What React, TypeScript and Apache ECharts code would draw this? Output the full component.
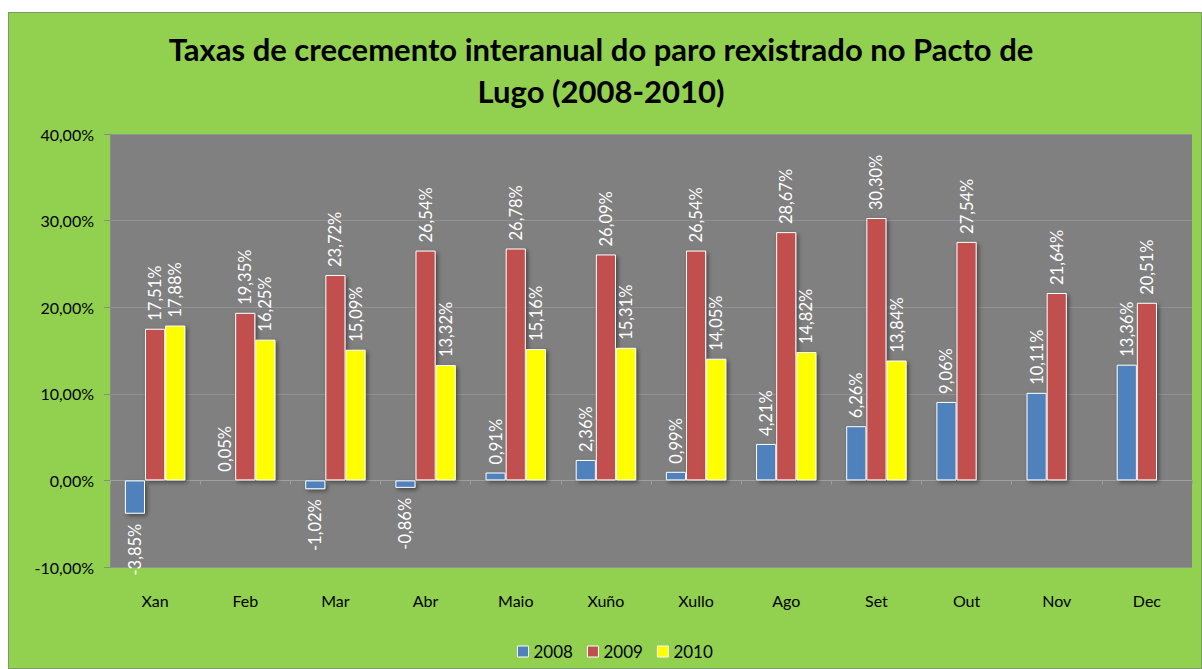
import React, { useEffect, useRef } from "react";
import * as echarts from "echarts";

const months = ["Xan", "Feb", "Mar", "Abr", "Maio", "Xuño", "Xullo", "Ago", "Set", "Out", "Nov", "Dec"];
const s2008 = [-3.85, 0.05, -1.02, -0.86, 0.91, 2.36, 0.99, 4.21, 6.26, 9.06, 10.11, 13.36];
const s2009 = [17.51, 19.35, 23.72, 26.54, 26.78, 26.09, 26.54, 28.67, 30.3, 27.54, 21.64, 20.51];
const s2010: (number | null)[] = [17.88, 16.25, 15.09, 13.32, 15.16, 15.31, 14.05, 14.82, 13.84, null, null, null];
const seriesNames = ["2008", "2009", "2010"];
const colors = ["#4f81bd", "#c0504d", "#ffff00"];
const titleText = "Taxas de crecemento interanual do paro rexistrado no Pacto de\nLugo (2008-2010)";

const FONT = "Lato, 'Open Sans', sans-serif";
const fmt = (v: number, d = 2) => v.toFixed(d).replace(".", ",") + "%";

function makeData(arr: (number | null)[]) {
  return arr.map((v) => {
    if (v === null) return null;
    if (v < 0) {
      return {
        value: v,
        label: { position: "bottom", align: "right", distance: 10 },
      };
    }
    return v;
  });
}

export default function App() {
  const ref = useRef<HTMLDivElement>(null);
  useEffect(() => {
    if (!ref.current) return;
    const chart = echarts.init(ref.current, undefined, { renderer: "svg" });
    const datas = [s2008, s2009, s2010];
    chart.setOption({
      animation: false,
      backgroundColor: "#92d050",
      textStyle: { fontFamily: FONT },
      title: {
        text: titleText,
        left: 587,
        top: 10,
        textAlign: "center",
        textStyle: { fontFamily: FONT, fontSize: 31, fontWeight: "bold", color: "#000", lineHeight: 42 },
      },
      legend: {
        left: 503,
        top: 625,
        itemWidth: 11,
        itemHeight: 11,
        itemGap: 14,
        icon: "rect",
        data: seriesNames.map((n, i) => ({ name: n, itemStyle: { color: colors[i], borderColor: "#fff", borderWidth: 1 } })),
        textStyle: { fontFamily: FONT, fontSize: 17, color: "#000", padding: [0, 0, 0, 0] },
      },
      grid: { left: 101, top: 121, width: 1082, height: 433, backgroundColor: "#808080", show: true, borderWidth: 0 },
      xAxis: [
        {
          type: "category",
          data: months,
          position: "bottom",
          axisLine: { onZero: false, show: false },
          axisTick: { show: false },
          axisLabel: { fontFamily: FONT, fontSize: 16, color: "#000", margin: 25 },
        },
        {
          type: "category",
          data: months,
          position: "bottom",
          axisLine: { onZero: true, show: true, lineStyle: { color: "#a0a0a0", width: 1 } },
          axisTick: { show: true, length: 4, lineStyle: { color: "#a0a0a0" } },
          axisLabel: { show: false },
        },
      ],
      yAxis: {
        type: "value",
        min: -10,
        max: 40,
        interval: 10,
        axisLine: { show: true, lineStyle: { color: "#8a8a8a" } },
        axisTick: { show: true, length: 6, lineStyle: { color: "#8a8a8a" } },
        axisLabel: { fontFamily: FONT, fontSize: 16, color: "#000", margin: 16, formatter: (v: number) => fmt(v) },
        splitLine: { show: true, lineStyle: { color: "#929292", width: 1 } },
      },
      series: datas.map((d, i) => ({
        name: seriesNames[i],
        type: "bar",
        xAxisIndex: 0,
        data: makeData(d),
        barGap: "0%",
        barCategoryGap: "33%",
        itemStyle: {
          color: colors[i],
          borderColor: "#ffffff",
          borderWidth: 1,
          shadowColor: "rgba(0,0,0,0.45)",
          shadowBlur: 4,
          shadowOffsetX: 2,
          shadowOffsetY: 2,
        },
        label: {
          show: true,
          position: "top",
          rotate: 90,
          align: "left",
          verticalAlign: "middle",
          distance: 8,
          color: "#ffffff",
          fontFamily: FONT,
          fontSize: 16.5,
          formatter: (p: any) => fmt(p.value),
        },
      })),
    });
    return () => chart.dispose();
  }, []);
  return (
    <div
      ref={ref}
      style={{
        position: "absolute",
        left: 8,
        top: 12,
        width: 1194,
        height: 657,
        boxSizing: "border-box",
        border: "1px solid #7f9a6a",
      }}
    />
  );
}
